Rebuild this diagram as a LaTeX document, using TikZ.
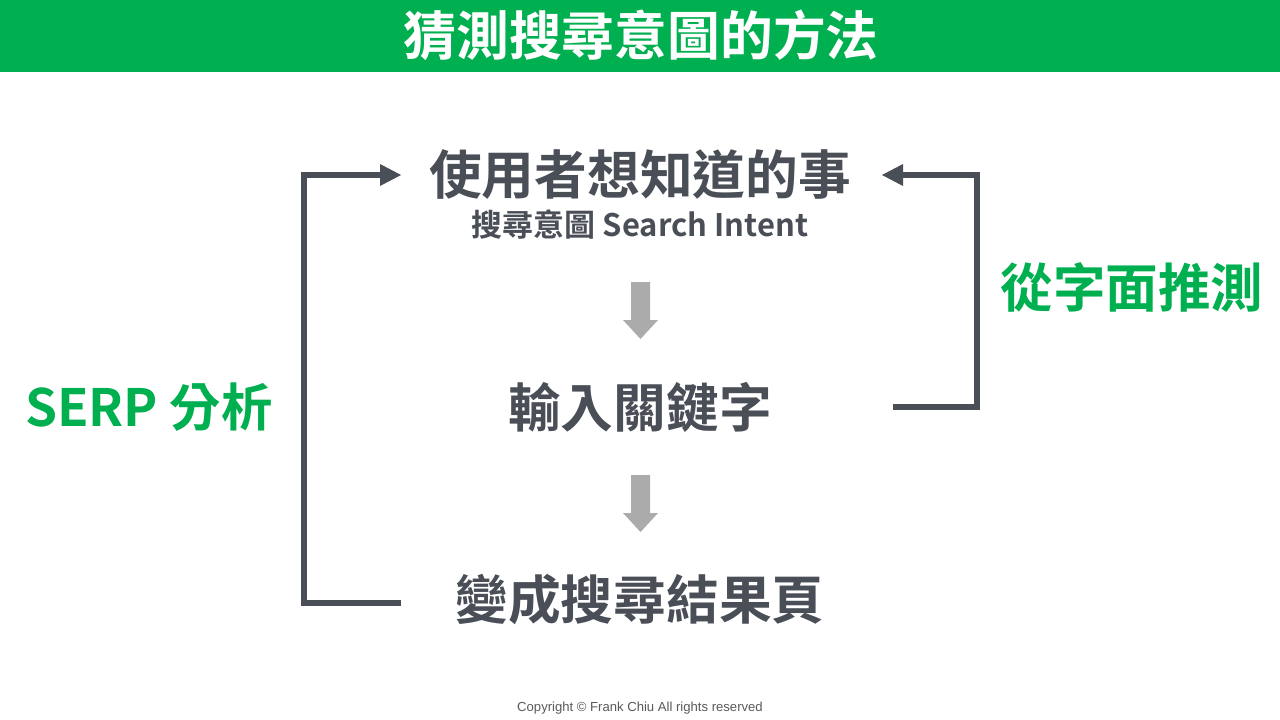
\documentclass[tikz,border=0pt]{standalone}
\usepackage{fontspec}
\newfontfamily\cjk{Noto Sans CJK TC}[BoldFont={* Bold}]
\setmainfont{Liberation Sans}
\definecolor{titlegreen}{HTML}{00B050}
\definecolor{darkgray}{HTML}{4A4E57}
\definecolor{arrowgray}{HTML}{ABABAB}
\definecolor{copygray}{HTML}{595959}
\begin{document}
\begin{tikzpicture}[x=1pt,y=-1pt,
  bigtxt/.style={font=\cjk\bfseries\fontsize{52.7}{52.7}\selectfont, text=darkgray, inner sep=0},
  greentxt/.style={font=\cjk\bfseries\fontsize{52.5}{52.5}\selectfont, text=titlegreen, inner sep=0},
  bracket/.style={draw=darkgray, line width=6pt},
  downarrow/.style={fill=arrowgray, draw=none}]
\useasboundingbox (0,0) rectangle (1280,720);
\fill[white] (0,0) rectangle (1280,720);
\fill[titlegreen] (0,0) rectangle (1280,72);
\node[font=\cjk\bfseries\fontsize{52.8}{52.8}\selectfont, text=white, inner sep=0] (title) at (641,35) {猜測搜尋意圖的方法};

\node[bigtxt] (want) at (640,175) {使用者想知道的事};
\node[font=\cjk\bfseries\fontsize{31}{31}\selectfont, text=darkgray, inner sep=0] (intent) at (640,225) {搜尋意圖 Search Intent};
\node[bigtxt] (kw) at (640,407) {輸入關鍵字};
\node[bigtxt] (serp) at (640,600) {變成搜尋結果頁};
\node[greentxt] (literal) at (1132,287) {從字面推測};
\node[font=\cjk\bfseries\fontsize{51.4}{51.4}\selectfont, text=titlegreen, inner sep=0, anchor=west] (serpan) at (25,407) {SERP 分析};
\node[font=\fontsize{13.1}{13.1}\selectfont, text=copygray, inner sep=0] (copy) at (640,708) {Copyright © Frank Chiu All rights reserved};

% left bracket
\coordinate (lb) at (401,603);
\coordinate (lt) at (382,175);
\draw[bracket] (lb) -- (304,603) -- (304,175) -- (lt);
\fill[darkgray] (380,164) -- (401,175) -- (380,186) -- cycle;

% right bracket
\coordinate (rb) at (893,407);
\coordinate (rt) at (901,175);
\draw[bracket] (rb) -- (977,407) -- (977,175) -- (rt);
\fill[darkgray] (903,164) -- (882,175) -- (903,186) -- cycle;

% down arrows
\fill[downarrow] (631,282) -- (650,282) -- (650,320) -- (658,320) -- (640.5,339) -- (623,320) -- (631,320) -- cycle;
\fill[downarrow] (631,475) -- (650,475) -- (650,513) -- (658,513) -- (640.5,532) -- (623,513) -- (631,513) -- cycle;
\end{tikzpicture}
\end{document}
